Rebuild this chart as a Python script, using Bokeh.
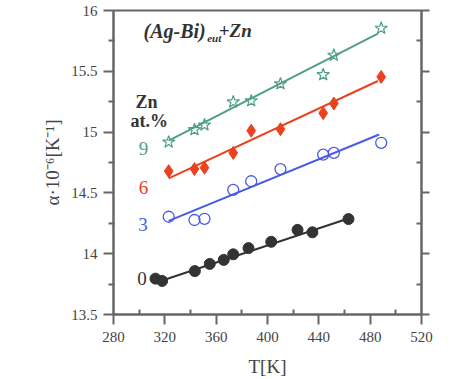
from bokeh.plotting import figure
from bokeh.models import Label, LinearAxis, Range1d, FixedTicker
from bokeh.embed import file_html
from bokeh.resources import INLINE

# --- data ---
T0 = [312.7, 317.9, 343.4, 355.0, 365.9, 373.3, 385.2, 402.9, 423.4, 435.0, 463.1]
a0 = [13.795, 13.776, 13.857, 13.916, 13.949, 13.995, 14.046, 14.098, 14.196, 14.176, 14.285]
T_other = [323.0, 343.1, 350.9, 373.3, 387.3, 410.1, 443.4, 451.7, 488.6]
a3 = [14.304, 14.277, 14.287, 14.525, 14.596, 14.696, 14.815, 14.829, 14.912]
a6 = [14.679, 14.696, 14.707, 14.829, 15.012, 15.024, 15.156, 15.235, 15.454]
a9 = [14.918, 15.020, 15.058, 15.248, 15.257, 15.397, 15.472, 15.632, 15.854]

fit0_T = [318.0, 463.0]
fit0_a = [13.78, 14.29]
fit3_T = [323.0, 487.0]
fit3_a = [14.27, 14.98]
fit6_T = [323.0, 486.0]
fit6_a = [14.62, 15.42]
fit9_T = [323.0, 486.0]
fit9_a = [14.93, 15.81]

x_ticks = [280, 320, 360, 400, 440, 480, 520]
x_minor = [300, 340, 380, 420, 460, 500]
y_ticks = [13.5, 14, 14.5, 15, 15.5, 16]
y_minor = [13.75, 14.25, 14.75, 15.25, 15.75]

C0 = "#333333"
C3 = "#4a5ae6"
C6 = "#eb411e"
C9 = "#4f9f88"
AX = "#666666"
TXT = "#444444"
FONT = "Liberation Serif"

p = figure(width=466, height=379, output_backend="svg", toolbar_location=None,
           x_range=Range1d(280, 520), y_range=Range1d(13.5, 16),
           min_border_left=113, min_border_right=45, min_border_top=10,
           min_border_bottom=61)
p.grid.visible = False
p.outline_line_color = AX
p.outline_line_width = 2
p.background_fill_color = "white"
p.border_fill_color = "white"

def style_axis(ax, tick_out=10, minor_out=0, minor_in=5):
    ax.axis_line_color = AX
    ax.axis_line_width = 2
    ax.major_tick_line_color = AX
    ax.minor_tick_line_color = AX
    ax.major_tick_line_width = 2
    ax.minor_tick_line_width = 2
    ax.major_tick_out = tick_out
    ax.major_tick_in = 0
    ax.minor_tick_out = minor_out
    ax.minor_tick_in = minor_in
    ax.major_label_text_font = FONT
    ax.major_label_text_font_size = "15px"
    ax.major_label_text_font_style = "normal"
    ax.major_label_text_color = TXT
    ax.axis_label_text_font = FONT
    ax.axis_label_text_font_size = "19px"
    ax.axis_label_text_font_style = "normal"
    ax.axis_label_text_color = TXT

xa = p.xaxis[0]
ya = p.yaxis[0]
style_axis(xa, tick_out=10, minor_out=0, minor_in=5)
style_axis(ya, tick_out=10, minor_out=5, minor_in=1)
xa.ticker = FixedTicker(ticks=x_ticks, minor_ticks=x_minor)
ya.ticker = FixedTicker(ticks=y_ticks, minor_ticks=y_minor)
xa.axis_label = "T[K]"
ya.axis_label = "α·10⁻⁶[K⁻¹]"
xa.major_label_standoff = 7
ya.major_label_standoff = 6
xa.axis_label_standoff = 11
ya.axis_label_standoff = 5

# right axis with ticks, no labels
r_ax = LinearAxis(ticker=FixedTicker(ticks=y_ticks, minor_ticks=y_minor))
style_axis(r_ax, tick_out=8, minor_out=0, minor_in=5)
r_ax.major_label_overrides = {v: "" for v in y_ticks}
r_ax.major_label_standoff = 0
p.add_layout(r_ax, "right")

# fit lines
p.line(fit0_T, fit0_a, line_color=C0, line_width=2)
p.line(fit3_T, fit3_a, line_color=C3, line_width=2)
p.line(fit6_T, fit6_a, line_color=C6, line_width=2)
p.line(fit9_T, fit9_a, line_color=C9, line_width=2)

# markers
p.scatter(T0, a0, marker="circle", size=11, fill_color=C0, line_color=C0)
p.scatter(T_other, a3, marker="circle", size=11, fill_color=None, line_color=C3, line_width=1.3)
p.scatter(T_other, a6, marker="diamond", size=13, fill_color=C6, line_color=C6)
p.scatter(T_other, a9, marker="star", size=13, fill_color=None, line_color=C9, line_width=1.2)

def lab(x, y, text, color="#333333", size="18px", style="bold", align="left", base="middle"):
    p.add_layout(Label(x=x, y=y, text=text, text_color=color, text_font=FONT,
                       text_font_size=size, text_font_style=style,
                       text_align=align, text_baseline=base))

lab(303.4, 15.835, "(Ag-Bi)", size="20px", style="bold italic")
lab(353.0, 15.770, "eut", size="11px", style="bold italic")
lab(362.0, 15.835, "+Zn", size="19px", style="bold italic")
lab(297.1, 15.245, "Zn", size="18px")
lab(293.2, 15.090, "at.%", size="18px")
lab(303.4, 14.864, "9", color=C9, size="19px", style="normal", align="center")
lab(303.4, 14.547, "6", color=C6, size="19px", style="normal", align="center")
lab(303.0, 14.239, "3", color=C3, size="19px", style="normal", align="center")
lab(302.2, 13.792, "0", color="#333333", size="19px", style="normal", align="center")

open("out.html", "w").write(file_html(p, INLINE))
